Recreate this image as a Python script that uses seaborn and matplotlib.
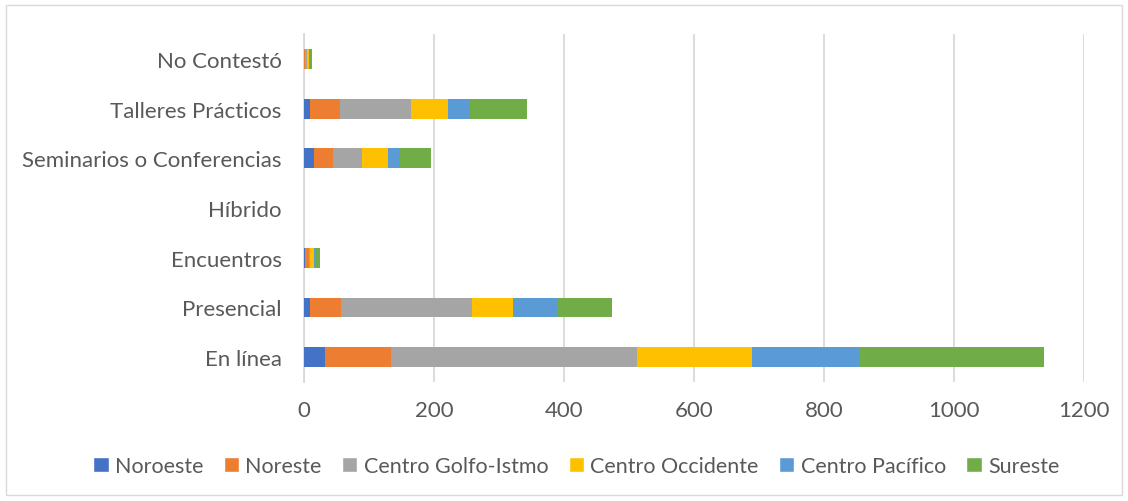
import numpy as np
import pandas as pd
import matplotlib
matplotlib.use('Agg')
import matplotlib.pyplot as plt
import seaborn as sns
from matplotlib.patches import Patch, Rectangle

# categories, top to bottom as in the chart
categorias = ['No Contestó', 'Talleres Prácticos', 'Seminarios o Conferencias',
              'Híbrido', 'Encuentros', 'Presencial', 'En línea']

regiones = ['Noroeste', 'Noreste', 'Centro Golfo-Istmo', 'Centro Occidente',
            'Centro Pacífico', 'Sureste']

noroeste = [0, 10, 16, 0, 1, 10, 32]
noreste = [1, 46, 28, 0, 6, 47, 102]
golfo_istmo = [4, 108, 46, 0, 3, 201, 378]
occidente = [2, 58, 39, 0, 6, 64, 177]
pacifico = [2, 34, 19, 0, 2, 68, 165]
sureste = [4, 87, 47, 0, 7, 84, 285]

colores = ['#4472C4', '#ED7D31', '#A5A5A5', '#FFC000', '#5B9BD5', '#70AD47']

sns.set_style('white')
plt.rcParams['font.family'] = ['Lato', 'DejaVu Sans']
texto = '#595959'
fs = 16

df = pd.DataFrame({'Categoria': categorias, 'Noroeste': noroeste, 'Noreste': noreste,
                   'Centro Golfo-Istmo': golfo_istmo, 'Centro Occidente': occidente,
                   'Centro Pacífico': pacifico, 'Sureste': sureste})

fig = plt.figure(figsize=(11.28, 5.02), dpi=100)
ax = fig.add_axes([0.2695, 0.237, 0.6915, 0.693])

# stacked bars: draw the cumulative sums from the longest down
acum = df[regiones].cumsum(axis=1)
for reg, col in reversed(list(zip(regiones, colores))):
    sns.barplot(x=acum[reg], y=df['Categoria'], orient='h', color=col,
                width=0.4, saturation=1, linewidth=0, ax=ax, zorder=3)

ax.set_xlim(0, 1200)
ax.set_ylim(6.5, -0.5)
ax.set_xticks(np.arange(0, 1201, 200))
ax.xaxis.grid(True, color='#D9D9D9', linewidth=1.3, zorder=0)
ax.set_axisbelow(True)
for s in ['top', 'right', 'bottom']:
    ax.spines[s].set_visible(False)
ax.spines['left'].set_color('#D9D9D9')
ax.spines['left'].set_linewidth(1.3)
ax.tick_params(axis='both', length=0, labelsize=fs, colors=texto)
ax.tick_params(axis='y', pad=16)
ax.tick_params(axis='x', pad=13)
ax.set_xlabel('')
ax.set_ylabel('')

handles = [Patch(facecolor=c, label=r) for r, c in zip(regiones, colores)]
fig.legend(handles=handles, loc='center', bbox_to_anchor=(0.511, 0.07), ncol=6,
           frameon=False, fontsize=15.5, labelcolor=texto, handlelength=0.7,
           handleheight=0.7, handletextpad=0.3, columnspacing=0.95)

fig.patches.append(Rectangle((6 / 1128, 6 / 502), 1 - 12 / 1128, 1 - 12 / 502,
                             transform=fig.transFigure, fill=False,
                             edgecolor='#D9D9D9', linewidth=1))

fig.savefig('out.png', dpi=100)
